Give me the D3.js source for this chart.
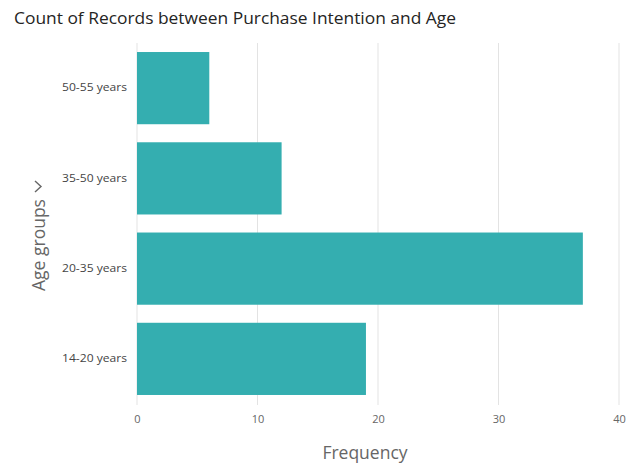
<!DOCTYPE html>
<html>
<head>
<meta charset="utf-8">
<script src="https://cdn.jsdelivr.net/npm/d3@7"></script>
<style>
  body { margin: 0; background: #fff; }
  text { font-family: "Open Sans", "Noto Sans", sans-serif; }
</style>
</head>
<body>
<div id="chart"></div>
<script>
// data
var ageGroups = ["50-55 years", "35-50 years", "20-35 years", "14-20 years"];
var counts = [6, 12, 37, 19];
var xTicks = [0, 10, 20, 30, 40];

var svgWidth = 633;
var svgHeight = 463;

var margin = { top: 43, right: 14, bottom: 58, left: 137 };
var width = svgWidth - margin.left - margin.right;
var height = svgHeight - margin.top - margin.bottom;

var svg = d3.select("#chart")
  .append("svg")
  .attr("width", svgWidth)
  .attr("height", svgHeight);

var chartGroup = svg.append("g")
  .attr("transform", `translate(${margin.left}, ${margin.top})`);

var data = ageGroups.map((g, i) => ({ group: g, count: counts[i] }));

var xScale = d3.scaleLinear().domain([0, 40]).range([0, 482]);
var yScale = d3.scaleBand()
  .domain(ageGroups)
  .range([0, height - 1])
  .paddingInner(0.2)
  .paddingOuter(0.1);

// gridlines
chartGroup.selectAll(".grid")
  .data(xTicks)
  .enter()
  .append("line")
  .attr("x1", d => xScale(d))
  .attr("x2", d => xScale(d))
  .attr("y1", 0)
  .attr("y2", height)
  .attr("stroke", "#e3e3e3")
  .attr("stroke-width", 1);

// bars
chartGroup.selectAll("rect")
  .data(data)
  .enter()
  .append("rect")
  .attr("x", 0)
  .attr("y", d => yScale(d.group))
  .attr("width", d => xScale(d.count))
  .attr("height", yScale.bandwidth())
  .attr("fill", "#34aeb0");

// x axis
var bottomAxis = d3.axisBottom(xScale).tickValues(xTicks).tickSize(0).tickPadding(10);
var xAxis = chartGroup.append("g")
  .attr("transform", `translate(0, ${height})`)
  .call(bottomAxis);
xAxis.select(".domain").remove();
xAxis.selectAll("text")
  .attr("fill", "#666")
  .style("font-size", "11px");

// y axis
var leftAxis = d3.axisLeft(yScale).tickSize(0).tickPadding(10);
var yAxis = chartGroup.append("g").call(leftAxis);
yAxis.select(".domain").remove();
yAxis.selectAll("text")
  .attr("fill", "#444")
  .style("font-size", "10px")
  .attr("textLength", 65)
  .attr("lengthAdjust", "spacingAndGlyphs");

// title
svg.append("text")
  .attr("x", 14)
  .attr("y", 24)
  .attr("fill", "#252423")
  .style("font-size", "16px")
  .attr("textLength", 442)
  .attr("lengthAdjust", "spacingAndGlyphs")
  .text("Count of Records between Purchase Intention and Age");

// axis titles
svg.append("text")
  .attr("x", 365)
  .attr("y", 459)
  .attr("text-anchor", "middle")
  .attr("fill", "#666")
  .style("font-size", "17.5px")
  .text("Frequency");

svg.append("text")
  .attr("transform", "translate(45, 245) rotate(-90)")
  .attr("text-anchor", "middle")
  .attr("fill", "#666")
  .style("font-size", "17.5px")
  .text("Age groups");

// drill chevron next to the y title
svg.append("path")
  .attr("d", "M35,181 L41,186.5 L35,192")
  .attr("fill", "none")
  .attr("stroke", "#666")
  .attr("stroke-width", 1.4);
</script>
</body>
</html>
